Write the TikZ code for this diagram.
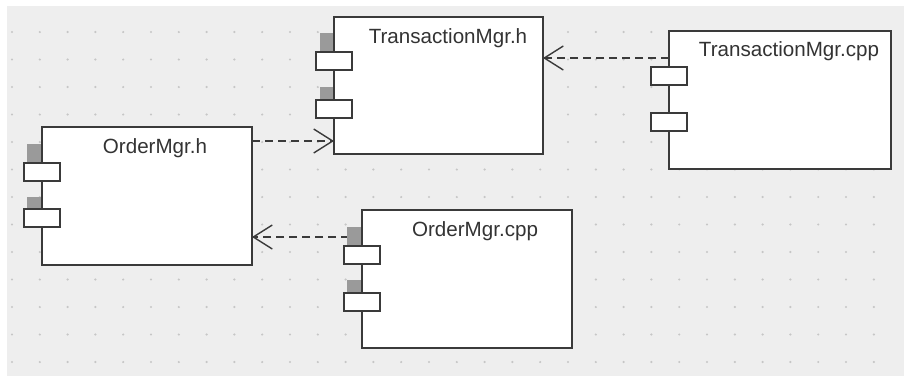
\documentclass[tikz,border=0pt]{standalone}
\usepackage{fontspec}
\setmainfont{Liberation Sans}
\usetikzlibrary{arrows.meta}
\definecolor{bggray}{HTML}{EEEEEE}
\definecolor{dotgray}{HTML}{C6C6C6}
\definecolor{linegray}{HTML}{3A3A3A}
\definecolor{shadegray}{HTML}{9A9A9A}
\definecolor{textgray}{HTML}{333333}
\begin{document}
\begin{tikzpicture}[x=1pt,y=-1pt,
  comp/.style={draw=linegray, line width=2pt, fill=white, rectangle, inner sep=0pt, outer sep=0pt, anchor=north west},
  port/.style={draw=linegray, line width=1.4pt, fill=white, rectangle, inner sep=0pt, outer sep=0pt, minimum width=36pt, minimum height=18pt, anchor=north},
  shadebox/.style={fill=shadegray, draw=none},
  title/.style={font=\fontsize{20.6pt}{24pt}\selectfont, text=textgray, anchor=base, inner sep=0pt},
  dep/.style={draw=linegray, line width=1.8pt, dash pattern=on 8pt off 5pt, -{Straight Barb[length=19pt,width=24pt,line width=1.4pt]}}
]
\useasboundingbox (0,0) rectangle (904,376);
\fill[white] (0,0) rectangle (904,376);
\fill[bggray] (7,6) rectangle (904,376);
\foreach \i in {0,...,31} {
  \foreach \j in {0,...,12} {
    \fill[dotgray] (12+\i*27.8, 32+\j*27.5) circle (1.2pt);
  }
}

% components
\node[comp, minimum width=209pt, minimum height=137pt] (tmh) at (334,17) {};
\node[comp, minimum width=210pt, minimum height=138pt] (omh) at (42,127) {};
\node[comp, minimum width=222pt, minimum height=138pt] (tmc) at (669,31) {};
\node[comp, minimum width=210pt, minimum height=138pt] (omc) at (362,210) {};

% connectors
\coordinate (c1) at ([yshift=-14pt]omh.north east);
\draw[dep] (c1) -- (c1 -| tmh.west);
\coordinate (c2) at ([yshift=-27pt]tmc.north west);
\draw[dep] (c2) -- (c2 -| tmh.east);
\coordinate (c3) at ([yshift=-27pt]omc.north west);
\draw[dep] (c3) -- (c3 -| omh.east);

% port shades
\fill[shadebox] (320,33) rectangle (333,52);
\fill[shadebox] (320,87) rectangle (333,99);
\fill[shadebox] (27,144) rectangle (41,163);
\fill[shadebox] (27,197) rectangle (41,209);
\fill[shadebox] (347,227) rectangle (361,246);
\fill[shadebox] (347,280) rectangle (361,292);

% ports
\node[port] (tmhp1) at ([yshift=-35pt]tmh.north west) {};
\node[port] (tmhp2) at ([yshift=-83pt]tmh.north west) {};
\node[port] (omhp1) at ([yshift=-36pt]omh.north west) {};
\node[port] (omhp2) at ([yshift=-82pt]omh.north west) {};
\node[port] (tmcp1) at ([yshift=-36pt]tmc.north west) {};
\node[port] (tmcp2) at ([yshift=-82pt]tmc.north west) {};
\node[port] (omcp1) at ([yshift=-36pt]omc.north west) {};
\node[port] (omcp2) at ([yshift=-83pt]omc.north west) {};

% titles
\node[title] (tmht) at (448,43) {TransactionMgr.h};
\node[title] (omht) at (155,153) {OrderMgr.h};
\node[title] (tmct) at (789,56) {TransactionMgr.cpp};
\node[title] (omct) at (475,236) {OrderMgr.cpp};
\end{tikzpicture}
\end{document}
